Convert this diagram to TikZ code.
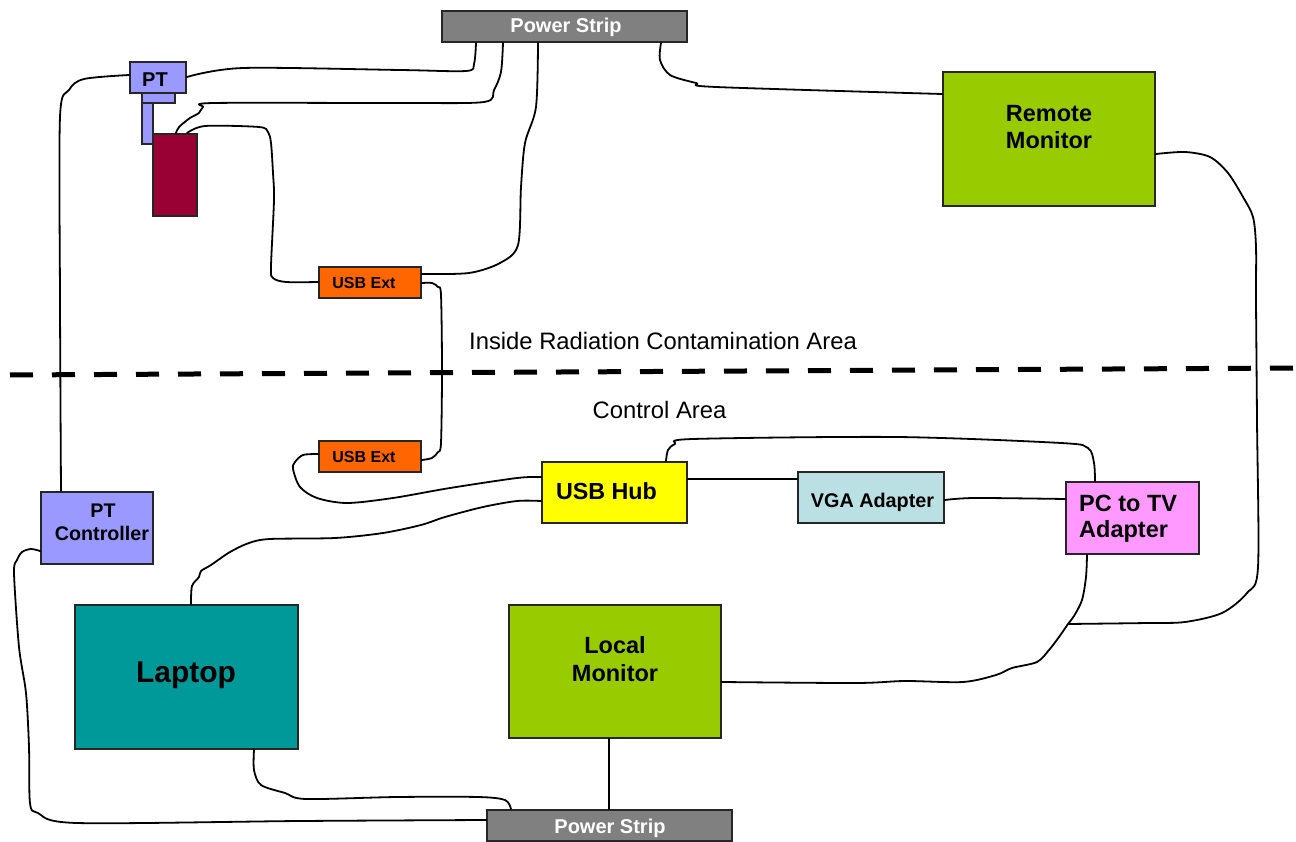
\documentclass[tikz,border=0pt]{standalone}
\usepackage{fontspec}
\setmainfont{Liberation Sans}
\newcommand\fsz[1]{\fontsize{#1}{#1}\selectfont}
\definecolor{psgray}{HTML}{808080}
\definecolor{ptblue}{HTML}{9999FF}
\definecolor{camred}{HTML}{990033}
\definecolor{usborange}{HTML}{FF6600}
\definecolor{hubyellow}{HTML}{FFFF00}
\definecolor{vgablue}{HTML}{BBE0E3}
\definecolor{tvpink}{HTML}{FF99FF}
\definecolor{mongreen}{HTML}{99CC00}
\definecolor{laptopteal}{HTML}{009999}
\begin{document}
\begin{tikzpicture}[x=1pt,y=-1pt,
  box/.style={draw=black!85, line width=1.8pt, inner sep=0pt, anchor=center},
  wire/.style={line width=1.8pt, line join=round, line cap=round},
  lbl/.style={inner sep=0pt, anchor=base, font=\bfseries},
  lblw/.style={inner sep=0pt, anchor=base west, font=\bfseries},
  area/.style={inner sep=0pt, anchor=center}]
\useasboundingbox (0,0) rectangle (1296,842);

% boxes
\node[box, fill=psgray, minimum width=245pt, minimum height=31pt] (ps1) at (564.5,26.5) {};
\node[box, fill=ptblue, minimum width=33pt, minimum height=10pt] (ptplug) at (158.5,98) {};
\node[box, fill=ptblue, minimum width=11pt, minimum height=41pt] (ptbar) at (147.5,123.5) {};
\node[box, fill=ptblue, minimum width=56pt, minimum height=31pt] (pt) at (158,77.5) {};
\node[box, fill=camred, minimum width=44pt, minimum height=82pt] (cam) at (175,175) {};
\node[box, fill=usborange, minimum width=102pt, minimum height=31pt] (usb1) at (370,282.5) {};
\node[box, fill=usborange, minimum width=102pt, minimum height=31pt] (usb2) at (370,456.5) {};
\node[box, fill=hubyellow, minimum width=145pt, minimum height=61pt] (hub) at (614.5,492.5) {};
\node[box, fill=vgablue, minimum width=146pt, minimum height=51pt] (vga) at (871,497.5) {};
\node[box, fill=tvpink, minimum width=133pt, minimum height=72pt] (pctv) at (1132.5,518) {};
\node[box, fill=mongreen, minimum width=212pt, minimum height=134pt] (rm) at (1049,139) {};
\node[box, fill=mongreen, minimum width=212pt, minimum height=133pt] (lm) at (615,671.5) {};
\node[box, fill=laptopteal, minimum width=223pt, minimum height=144pt] (lap) at (186.5,677) {};
\node[box, fill=ptblue, minimum width=112pt, minimum height=72pt] (ptctl) at (97,528) {};
\node[box, fill=psgray, minimum width=245pt, minimum height=31pt] (ps2) at (609.5,825.5) {};

% labels
\node[lbl, text=white, font=\bfseries\fsz{20}] (ps1t) at (566,33) {Power Strip};
\node[lbl, font=\bfseries\fsz{20}] (ptt) at (155,87) {PT};
\node[lbl, font=\bfseries\fsz{16}] (usb1t) at (364,288.5) {USB Ext};
\node[lbl, font=\bfseries\fsz{16}] (usb2t) at (364,462.5) {USB Ext};
\node[lbl, font=\bfseries\fsz{23.3}] (hubt) at (606.5,499) {USB Hub};
\node[lbl, font=\bfseries\fsz{19.8}] (vgat) at (872.5,507) {VGA Adapter};
\node[lblw, font=\bfseries\fsz{23.5}] (pctv1) at (1079,511) {PC to TV};
\node[lblw, font=\bfseries\fsz{23.5}] (pctv2) at (1079,537) {Adapter};
\node[lbl, font=\bfseries\fsz{23.5}] (rm1) at (1049,122) {Remote};
\node[lbl, font=\bfseries\fsz{23.5}] (rm2) at (1049,149) {Monitor};
\node[lbl, font=\bfseries\fsz{23.5}] (lm1) at (615,653) {Local};
\node[lbl, font=\bfseries\fsz{23.5}] (lm2) at (615,681) {Monitor};
\node[lbl, font=\bfseries\fsz{30}] (lapt) at (186,682) {Laptop};
\node[lbl, font=\bfseries\fsz{19.7}] (ptc1) at (103,517) {PT};
\node[lbl, font=\bfseries\fsz{19.7}] (ptc2) at (102,540) {Controller};
\node[lbl, text=white, font=\bfseries\fsz{20}] (ps2t) at (610,833) {Power Strip};

\node[area, font=\fsz{23.8}] (inside) at (663,341) {Inside Radiation Contamination Area};
\node[area, font=\fsz{23.8}] (control) at (659.5,410) {Control Area};

% boundary
\coordinate (dl) at (10,375);
\coordinate (dr) at (1296,368);
\draw[line width=5pt, dash pattern=on 23pt off 19pt] (dl) -- (dr);

% wires
\draw[wire] plot[smooth, tension=.5] coordinates {(pt.east |- 0,77) (243,68) (400,70) (466,71) (474,64) (ps1.south -| 476,0)};
\draw[wire] plot[smooth, tension=.5] coordinates {(pt.west |- 0,75) (84,79) (69,90) (60,117) (60,300) (ptctl.north -| 61,0)};
\draw[wire] plot[smooth, tension=.5] coordinates {(ps1.south -| 503,0) (501,72) (494,90) (484,102) (400,103) (214,103) (203,107) (199,113) (190,118) (179,127) (cam.north -| 176,0)};
\draw[wire] plot[smooth, tension=.5] coordinates {(cam.north -| 187,0) (205,126) (259,127) (268,132) (271,143) (273,173) (274,200) (271,267) (273,278) (286,282) (usb1.west |- 0,282)};
\draw[wire] plot[smooth, tension=.5] coordinates {(ps1.south -| 538,0) (536,107) (525,143) (521,187) (518,245) (500,263) (469,273) (usb1.east |- 0,274)};
\draw[wire] plot[smooth, tension=.5] coordinates {(ps1.south -| 661,0) (660,60) (670,75) (696,83) (716,87) (rm.west |- 0,94)};
\coordinate (jn) at (1068,624);
\draw[wire] plot[smooth, tension=.5] coordinates {(rm.east |- 0,154) (1185,152) (1210,157) (1228,173) (1243,197) (1253,217) (1256,247) (1256,300) (1257,420) (1258,567) (1247,593) (1222,613) (1185,622) (1148,623) (jn)};
\draw[wire] plot[smooth, tension=.5] coordinates {(pctv.south -| 1087,0) (1086,577) (1082,600) (1074,616) (jn) (1059,637) (1049,650) (1037,662) (1012,668) (996,675) (963,682) (905,681) (856,683) (lm.east |- 0,682)};
\draw[wire] plot[smooth, tension=.5] coordinates {(hub.north -| 666,0) (668,450) (675,444) (693,439) (897,437) (1061,443) (1088,448) (1094,463) (pctv.north -| 1095,0)};
\draw[wire] (hub.east |- 0,479) -- (vga.west |- 0,479);
\draw[wire] plot[smooth, tension=.5] coordinates {(vga.east |- 0,500) (975,498) (pctv.west |- 0,499)};
\draw[wire] plot[smooth, tension=.5] coordinates {(usb1.east |- 0,283) (432,283) (438,287) (441,295) (442,370) (441,443) (438,452) (432,458) (usb2.east |- 0,460)};
\draw[wire] plot[smooth, tension=.5] coordinates {(usb2.west |- 0,454) (303,455) (295,462) (293,469) (300,487) (317,498) (347,503) (393,498) (450,488) (517,478) (hub.west |- 0,477)};
\draw[wire] plot[smooth, tension=.5] coordinates {(hub.west |- 0,501) (517,501) (483,507) (445,517) (421,525) (383,533) (335,538) (270,539) (249,543) (230,552) (211,565) (201,571) (199,577) (192,586) (lap.north -| 191,0)};
\draw[wire] plot[smooth, tension=.5] coordinates {(ptctl.west |- 0,551) (31,549) (22,552) (17,560) (14,573) (19,647) (26,693) (29,747) (30,803) (38,813) (77,823) (300,821) (ps2.west |- 0,820)};
\draw[wire] plot[smooth, tension=.5] coordinates {(lap.south -| 254,0) (254,770) (261,785) (285,793) (306,799) (397,797) (478,797) (505,800) (ps2.north -| 511,0)};
\draw[wire] (lm.south -| 609,0) -- (ps2.north -| 609,0);
\end{tikzpicture}
\end{document}
